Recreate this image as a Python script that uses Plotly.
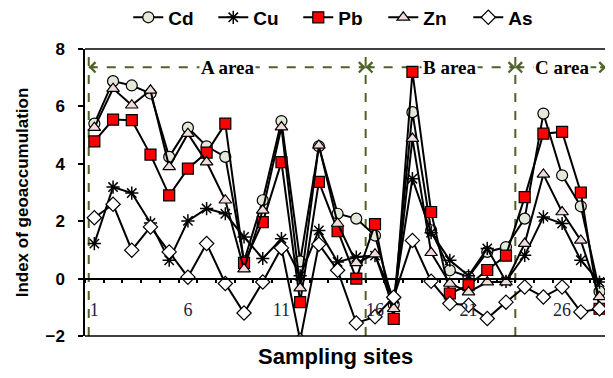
import plotly.graph_objects as go

sites = list(range(1, 29))
cd = [5.4, 6.88, 6.73, 6.45, 4.24, 5.26, 4.61, 4.24, 0.6, 2.73, 5.49, 0.6, 4.61, 2.26,
      2.09, 1.5, -0.9, 5.8, 1.68, 0.29, 0.06, 0.93, 1.1, 2.09, 5.75, 3.6, 2.52, -0.45]
cu = [1.22, 3.19, 2.98, 1.94, 0.64, 2.01, 2.44, 2.26, 1.45, 0.7, 1.39, 0.1, 1.68, 0.58,
      0.75, 0.8, -0.7, 3.48, 1.6, 0.64, 0.1, 1.05, -0.1, 0.81, 2.15, 1.92, 0.64, -0.12]
pb = [4.78, 5.54, 5.52, 4.32, 2.9, 3.83, 4.39, 5.4, 0.55, 1.97, 4.06, -0.82, 3.37, 1.65,
      0.0, 1.9, -1.4, 7.2, 2.32, -0.52, -0.23, 0.3, 0.8, 2.84, 5.05, 5.11, 3.0, -1.05]
zn = [5.26, 6.62, 6.04, 6.56, 3.89, 5.05, 4.06, 2.73, 0.33, 2.38, 5.28, -0.33, 4.64, 1.92,
      0.55, 0.85, -1.05, 4.88, 0.9, -0.17, -0.47, -0.12, -0.12, 1.22, 3.63, 2.32, 1.33, -0.64]
as_ = [2.12, 2.59, 0.99, 1.8, 0.93, 0.05, 1.22, -0.17, -1.2, -0.12, 1.07, -2.15, 1.2, 0.29,
       -1.55, -1.33, -0.65, 1.33, -0.09, -0.87, -0.93, -1.39, -0.82, -0.29, -0.64, -0.29, -1.16, -1.05]

x_tick_labels = [1, 6, 11, 16, 21, 26]
y_ticks = [-2, 0, 2, 4, 6, 8]
area_bounds = [0.7, 15.5, 23.5, 28.35]
area_names = ["A area", "B area", "C area"]
area_label_x = [8.1, 20.0, 26.0]
area_label_y = 7.36

GREEN = "#4F6228"
SANS = "Liberation Sans, Arial, sans-serif"
NARROW = "Liberation Sans Narrow, Arial Narrow, Liberation Sans, sans-serif"
SERIF = "Liberation Serif, Times New Roman, serif"

series = [
    ("Cd", cd, dict(symbol="circle", size=11, color="#E3E9D8", line=dict(color="black", width=1.2))),
    ("Cu", cu, dict(symbol="asterisk-open", size=11, color="black", line=dict(color="black", width=1.5))),
    ("Pb", pb, dict(symbol="square", size=11, color="#FF0000", line=dict(color="black", width=1.2))),
    ("Zn", zn, dict(symbol="triangle-up", size=11, color="#F2DCDB", line=dict(color="black", width=1.2))),
    ("As", as_, dict(symbol="diamond", size=11, color="white", line=dict(color="black", width=1.2))),
]

fig = go.Figure()
for name, vals, mk in series:
    fig.add_trace(go.Scatter(x=sites, y=vals, name=name, mode="lines+markers",
                             line=dict(color="black", width=2), marker=mk))

shapes = []
for b in area_bounds:
    shapes.append(dict(type="line", xref="x", yref="paper", x0=b, x1=b, y0=0, y1=1,
                       line=dict(color=GREEN, width=2, dash="dash"), layer="below"))
for i in range(3):
    shapes.append(dict(type="line", xref="x", yref="y", x0=area_bounds[i], x1=area_bounds[i + 1],
                       y0=area_label_y, y1=area_label_y,
                       line=dict(color=GREEN, width=2, dash="dash"), layer="below"))
for yy in (0, 1):
    shapes.append(dict(type="line", xref="paper", yref="paper", x0=0, x1=1, y0=yy, y1=yy,
                       line=dict(color="black", width=1.5)))

annotations = []
for i in range(3):
    x0, x1 = area_bounds[i], area_bounds[i + 1]
    annotations.append(dict(x=area_label_x[i], y=area_label_y, xref="x", yref="y", text=area_names[i],
                            showarrow=False, bgcolor="white",
                            font=dict(family=SERIF, size=19, color="black", weight="bold")))
    for head, tail in ((x0, x0 + 0.4), (x1, x1 - 0.4)):
        annotations.append(dict(x=head, y=area_label_y, ax=tail, ay=area_label_y, xref="x", yref="y",
                                axref="x", ayref="y", text="", showarrow=True, arrowhead=4,
                                arrowsize=1, arrowwidth=2, arrowcolor=GREEN, standoff=0))
annotations.append(dict(x=0.48, y=-0.073, xref="paper", yref="paper", text="Sampling sites",
                        showarrow=False, yanchor="middle",
                        font=dict(family=NARROW, size=22, color="black", weight="bold")))

fig.update_layout(
    width=613, height=378,
    margin=dict(l=77, r=14, t=41, b=50, autoexpand=False),
    paper_bgcolor="white", plot_bgcolor="white",
    showlegend=True,
    legend=dict(orientation="h", x=0.49, xanchor="center", y=1.11, yanchor="middle",
                font=dict(family=NARROW, size=19, color="black", weight="bold"),
                itemwidth=30, entrywidth=40, entrywidthmode="pixels", bgcolor="rgba(0,0,0,0)"),
    xaxis=dict(range=[0.5, 28.4], anchor="free", position=0.2,
               showline=True, linecolor="black", linewidth=1.5, showgrid=False, zeroline=False,
               tickmode="array", tickvals=x_tick_labels, ticktext=[str(v) for v in x_tick_labels],
               ticks="", ticklabelstandoff=15,
               tickfont=dict(family=SERIF, size=18, color="#1a2440"),
               minor=dict(tick0=0.5, dtick=1, ticks="outside", ticklen=4, tickwidth=1.5,
                          tickcolor="black", showgrid=False)),
    yaxis=dict(range=[-2, 8], tickmode="array", tickvals=y_ticks,
               showline=True, linecolor="black", linewidth=1.5, showgrid=False, zeroline=False,
               ticks="outside", ticklen=5, tickwidth=1.5, tickcolor="black", ticklabelstandoff=10,
               tickfont=dict(family=SANS, size=17, color="black", weight="bold"),
               title=dict(text="Index of geoaccumulation", standoff=13,
                          font=dict(family=SANS, size=17, color="black", weight="bold"))),
    shapes=shapes, annotations=annotations,
)

fig.write_html("out.html")
